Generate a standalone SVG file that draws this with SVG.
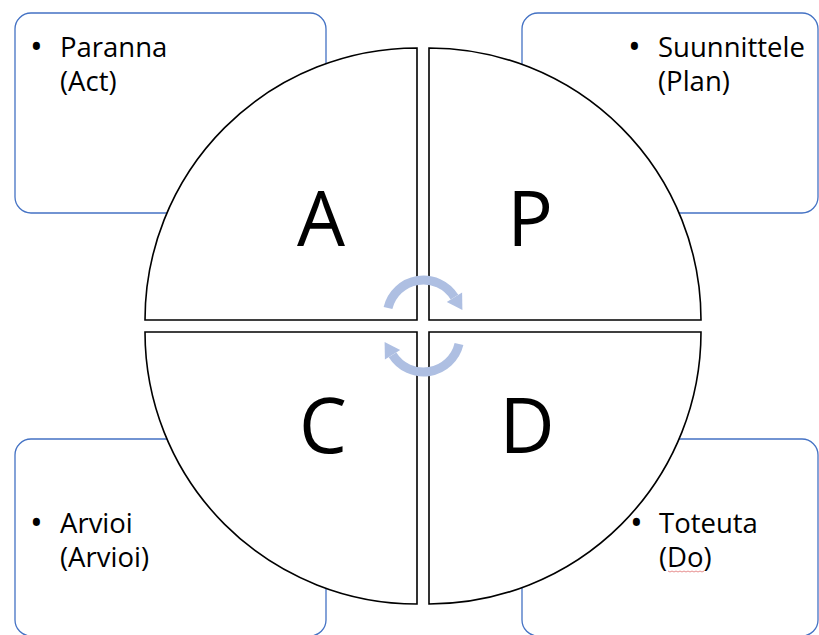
<svg xmlns="http://www.w3.org/2000/svg" width="819" height="635" viewBox="0 0 819 635">
  <defs>
    <style>
      .box { fill: #ffffff; stroke: #4472c4; stroke-width: 1.3; }
      .quad { fill: #ffffff; stroke: #000000; stroke-width: 1.6; stroke-linejoin: miter; }
      .label { font-family: "Open Sans", "Noto Sans", "Liberation Sans", sans-serif; font-size: 27.5px; fill: #000000; }
      .bullet { font-size: 34px; }
      .big { font-family: "Open Sans", "Noto Sans", "Liberation Sans", sans-serif; font-size: 76px; fill: #000000; text-anchor: middle; }
      .cyc { fill: none; stroke: #aebfe2; stroke-width: 9; }
      .cychead { fill: #aebfe2; }
    </style>
    <!-- one half of the cycle arrow: arc over the top with a head at its right end -->
    <g id="halfArrow">
      <path class="cyc" d="M388,308 A36.5,36.5 0 0 1 454.45,297.16"/>
      <polygon class="cychead" points="462.1,292.4 462.4,309.9 446.8,301.9"/>
    </g>
  </defs>

  <rect width="819" height="635" fill="#ffffff"/>

  <!-- corner text boxes -->
  <g id="box-act">
    <rect class="box" x="15" y="13" width="311" height="200" rx="16"/>
    <text class="label"><tspan class="bullet" x="30" y="59">•</tspan><tspan x="60" y="57">Paranna</tspan><tspan x="60" y="91">(Act)</tspan></text>
  </g>
  <g id="box-plan">
    <rect class="box" x="522" y="13" width="296" height="200" rx="16"/>
    <text class="label"><tspan class="bullet" x="628" y="59">•</tspan><tspan x="658" y="57">Suunnittele</tspan><tspan x="658" y="91">(Plan)</tspan></text>
  </g>
  <g id="box-check">
    <rect class="box" x="15" y="439" width="311" height="197" rx="16"/>
    <text class="label"><tspan class="bullet" x="30" y="535">•</tspan><tspan x="60" y="533">Arvioi</tspan><tspan x="60" y="567">(Arvioi)</tspan></text>
  </g>
  <g id="box-do">
    <rect class="box" x="522" y="439" width="296" height="197" rx="16"/>
    <text class="label"><tspan class="bullet" x="630" y="535">•</tspan><tspan x="659" y="533">Toteuta</tspan><tspan x="659" y="567">(Do)</tspan></text>
    <!-- spell-check squiggle under "Do" -->
    <polyline points="668,571 670,572 672,571 674,572 676,571 678,572 680,571 682,572 684,571 686,572 688,571 690,572 692,571 694,572 696,571 698,572 700,571 702,572 704,571" fill="none" stroke="#e07070" stroke-width="0.8"/>
  </g>

  <!-- circle split into four quadrants -->
  <g id="quad-A">
    <path class="quad" d="M417,320 L145,320 A272,272 0 0 1 417,48 Z"/>
    <text class="big" x="321" y="246">A</text>
  </g>
  <g id="quad-P">
    <path class="quad" d="M429,320 L429,48 A272,272 0 0 1 701,320 Z"/>
    <text class="big" x="530" y="246">P</text>
  </g>
  <g id="quad-C">
    <path class="quad" d="M417,332 L145,332 A272,272 0 0 0 417,604 Z"/>
    <text class="big" x="323" y="453">C</text>
  </g>
  <g id="quad-D">
    <path class="quad" d="M429,332 L701,332 A272,272 0 0 1 429,604 Z"/>
    <text class="big" x="527" y="453">D</text>
  </g>

  <!-- cycle arrows in the centre -->
  <g id="connectors">
    <use href="#halfArrow"/>
    <use href="#halfArrow" transform="rotate(180 423.5 326)"/>
  </g>
</svg>
